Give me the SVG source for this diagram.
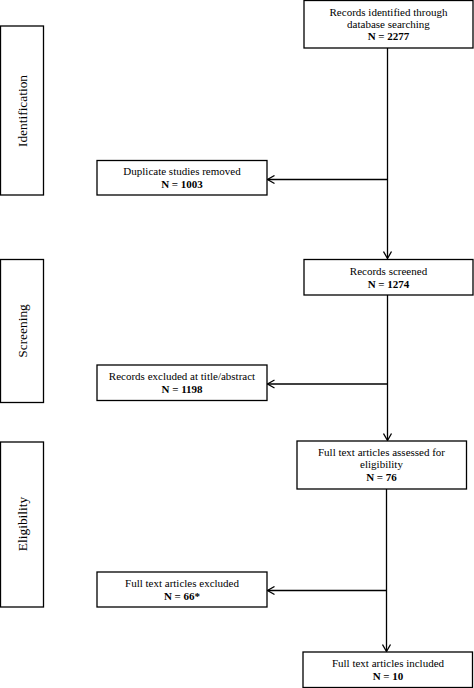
<svg xmlns="http://www.w3.org/2000/svg" width="474" height="688" viewBox="0 0 474 688">
<defs>
<style>
.box{fill:#fff;stroke:#000;stroke-width:1.3}
.t{font-family:"Liberation Serif","Times New Roman",serif;font-size:11px;fill:#000;text-anchor:middle}
.b{font-weight:bold}
.side{font-family:"Liberation Serif","Times New Roman",serif;font-size:13.4px;fill:#000;text-anchor:middle}
.ln{fill:none;stroke:#000;stroke-width:1.3}
</style>
<marker id="ah" markerWidth="10" markerHeight="10" refX="8" refY="5" orient="auto" markerUnits="userSpaceOnUse">
<path d="M1,1 L8,5 L1,9" fill="none" stroke="#000" stroke-width="1.3"/>
</marker>
</defs>
<rect width="474" height="688" fill="#fff"/>
<g id="phase-identification">
<rect class="box" x="0.5" y="26" width="43" height="169"/>
<text class="side" transform="translate(27,111) rotate(-90)">Identification</text>
</g>
<g id="phase-screening">
<rect class="box" x="0.5" y="259.5" width="43" height="143"/>
<text class="side" transform="translate(27,331) rotate(-90)">Screening</text>
</g>
<g id="phase-eligibility">
<rect class="box" x="0.5" y="442" width="43" height="165"/>
<text class="side" transform="translate(27,524) rotate(-90)">Eligibility</text>
</g>
<g id="connectors">
<line class="ln" x1="387.5" y1="48" x2="387.5" y2="258.5" marker-end="url(#ah)"/>
<line class="ln" x1="387.5" y1="179.5" x2="267.5" y2="179.5" marker-end="url(#ah)"/>
<line class="ln" x1="387.5" y1="295" x2="387.5" y2="440.5" marker-end="url(#ah)"/>
<line class="ln" x1="387.5" y1="384" x2="267.5" y2="384" marker-end="url(#ah)"/>
<line class="ln" x1="386.5" y1="489" x2="386.5" y2="651.5" marker-end="url(#ah)"/>
<line class="ln" x1="386.5" y1="590.5" x2="267.5" y2="590.5" marker-end="url(#ah)"/>
</g>
<g id="records-identified">
<rect class="box" x="304" y="0.5" width="169" height="47.5"/>
<text class="t" x="388.5" y="15.5">Records identified through</text>
<text class="t" x="388.5" y="27.5">database searching</text>
<text class="t b" x="388.5" y="40">N = 2277</text>
</g>
<g id="duplicates-removed">
<rect class="box" x="97" y="160.5" width="170" height="34.5"/>
<text class="t" x="182" y="175">Duplicate studies removed</text>
<text class="t b" x="182" y="188">N = 1003</text>
</g>
<g id="records-screened">
<rect class="box" x="304" y="259.5" width="169" height="35.5"/>
<text class="t" x="388.5" y="275">Records screened</text>
<text class="t b" x="388.5" y="288">N = 1274</text>
</g>
<g id="records-excluded">
<rect class="box" x="97" y="365" width="170" height="35.5"/>
<text class="t" x="182" y="380">Records excluded at title/abstract</text>
<text class="t b" x="182" y="393">N = 1198</text>
</g>
<g id="fulltext-assessed">
<rect class="box" x="297" y="441" width="169.5" height="48"/>
<text class="t" x="381.5" y="455.5">Full text articles assessed for</text>
<text class="t" x="381.5" y="468">eligibility</text>
<text class="t b" x="381.5" y="481">N = 76</text>
</g>
<g id="fulltext-excluded">
<rect class="box" x="97" y="572" width="170" height="35"/>
<text class="t" x="182" y="587">Full text articles excluded</text>
<text class="t b" x="182" y="600">N = 66*</text>
</g>
<g id="fulltext-included">
<rect class="box" x="303" y="652" width="169.5" height="35.5"/>
<text class="t" x="388" y="667">Full text articles included</text>
<text class="t b" x="388" y="680">N = 10</text>
</g>
</svg>
